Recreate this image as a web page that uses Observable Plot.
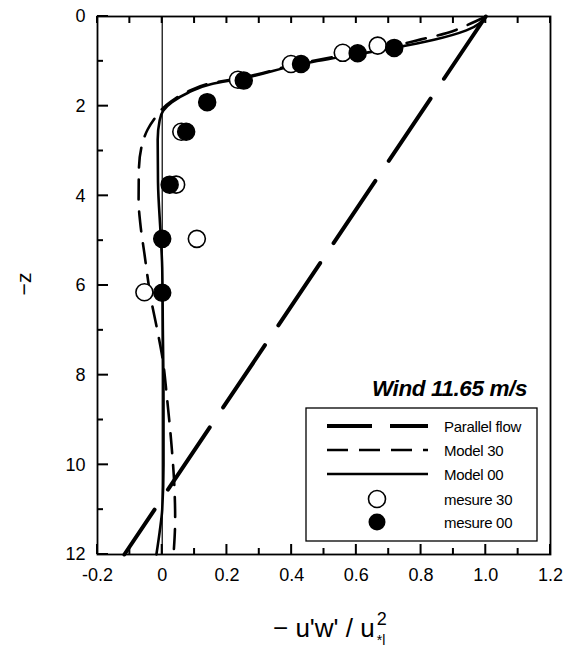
<!DOCTYPE html>
<html>
<head>
<meta charset="utf-8">
<script src="https://cdn.jsdelivr.net/npm/d3@7"></script>
<script src="https://cdn.jsdelivr.net/npm/@observablehq/plot@0.6"></script>
<style>
  html, body { margin: 0; padding: 0; background: #fff; }
  svg { display: block; }
</style>
</head>
<body>
<script>
// ---- data ----
const xMajorTicks = [-0.2, 0, 0.2, 0.4, 0.6, 0.8, 1.0, 1.2];
const xMinorTicks = [-0.1, 0.1, 0.3, 0.5, 0.7, 0.9, 1.1];
const yMajorTicks = [0, 2, 4, 6, 8, 10, 12];
const yMinorTicks = [1, 3, 5, 7, 9, 11];

const parallelX = [1.0, -0.117];
const parallelZ = [0, 12];

const model00X = [1.0, 0.94, 0.84, 0.717, 0.604, 0.43, 0.25, 0.15, 0.08, 0.03, 0.003, -0.008, -0.014, -0.013, -0.005, 0.0, 0.002, 0.004, 0.004, 0.0, -0.008, -0.018];
const model00Z = [0.0, 0.31, 0.52, 0.70, 0.84, 1.06, 1.38, 1.51, 1.70, 1.91, 2.10, 2.32, 2.75, 3.7, 4.85, 5.6, 7.0, 8.5, 10.0, 11.0, 11.5, 12.0];

const model30X = [1.0, 0.94, 0.88, 0.80, 0.72, 0.60, 0.43, 0.25, 0.15, 0.08, 0.03, 0.0, -0.024, -0.045, -0.062, -0.072, -0.073, -0.068, -0.055, -0.034, -0.015, 0.002, 0.014, 0.028, 0.037, 0.04, 0.035];
const model30Z = [0.0, 0.20, 0.37, 0.51, 0.65, 0.81, 1.04, 1.36, 1.49, 1.67, 1.88, 2.06, 2.28, 2.52, 2.85, 3.4, 4.1, 4.6, 5.29, 6.33, 7.0, 7.67, 8.45, 9.5, 10.4, 11.2, 12.0];

const mesure30X = [0.666, 0.558, 0.398, 0.234, 0.059, 0.043, 0.107, -0.055];
const mesure30Z = [0.65, 0.81, 1.06, 1.41, 2.57, 3.75, 4.96, 6.15];
const mesure00X = [0.717, 0.604, 0.429, 0.252, 0.139, 0.074, 0.023, 0.0, 0.0];
const mesure00Z = [0.70, 0.82, 1.06, 1.43, 1.91, 2.57, 3.75, 4.96, 6.16];

const seriesNames = ["Parallel flow", "Model 30", "Model 00", "mesure 30", "mesure 00"];
const titleText = "Wind 11.65 m/s";

// ---- build tables ----
const zip = (xs, zs) => xs.map((x, i) => ({x, z: zs[i]}));
const parallel = zip(parallelX, parallelZ);
const model00 = zip(model00X, model00Z);
const model30 = zip(model30X, model30Z);
const mesure30 = zip(mesure30X, mesure30Z);
const mesure00 = zip(mesure00X, mesure00Z);

const W = 577, H = 650;
const mL = 97, mR = 27, mT = 16, mB = 96;
const FONT = "'Liberation Sans', Arial, Helvetica, sans-serif";

const dashParallel = "75,24";
const dashModel30 = "20,12";

const chart = Plot.plot({
  width: W, height: H,
  marginLeft: mL, marginRight: mR, marginTop: mT, marginBottom: mB,
  style: {fontFamily: FONT, fontSize: "18px", color: "black", background: "white"},
  x: {domain: [-0.2, 1.2]},
  y: {domain: [0, 12], reverse: true},
  marks: [
    Plot.ruleX([0], {stroke: "black", strokeWidth: 1.2}),
    Plot.axisX({anchor: "bottom", ticks: xMajorTicks, tickSize: 0, tickPadding: 14,
      tickFormat: d => d === 0 ? "0" : d.toFixed(1), label: null, fontSize: 18}),
    Plot.axisY({anchor: "left", ticks: yMajorTicks, tickSize: 0, tickPadding: 12,
      tickFormat: d => String(d), label: null, fontSize: 18}),
    Plot.frame({stroke: "black", strokeWidth: 1.8}),
    Plot.line(parallel, {x: "x", y: "z", stroke: "black", strokeWidth: 4, strokeDasharray: dashParallel}),
    Plot.line(model30, {x: "x", y: "z", curve: "monotone-y", stroke: "black", strokeWidth: 2.6, strokeDasharray: dashModel30}),
    Plot.line(model00, {x: "x", y: "z", curve: "monotone-y", stroke: "black", strokeWidth: 2.6}),
    Plot.dot(mesure30, {x: "x", y: "z", r: 8.5, fill: "white", stroke: "black", strokeWidth: 1.6}),
    Plot.dot(mesure00, {x: "x", y: "z", r: 8.5, fill: "black", stroke: "black"})
  ]
});
document.body.appendChild(chart);

const svg = d3.select(chart);
const sx = chart.scale("x"), sy = chart.scale("y");
const fx0 = sx.apply(-0.2), fy0 = sy.apply(0), fy1 = sy.apply(12);

// inward tick marks, positioned through the chart's own scales
const tickG = svg.append("g").attr("fill", "black");
function vTick(px, yStart, len) {
  tickG.append("rect").attr("x", px - 1).attr("width", 2)
    .attr("y", Math.min(yStart, yStart + len)).attr("height", Math.abs(len));
}
function hTick(py, len) {
  tickG.append("rect").attr("y", py - 1).attr("height", 2)
    .attr("x", fx0).attr("width", len);
}
xMajorTicks.forEach(v => vTick(sx.apply(v), fy1, -10));
xMinorTicks.forEach(v => vTick(sx.apply(v), fy1, -6));
xMajorTicks.concat(xMinorTicks).forEach(v => vTick(sx.apply(v), fy0, 7));
yMajorTicks.forEach(v => hTick(sy.apply(v), 11));
yMinorTicks.forEach(v => hTick(sy.apply(v), 6));

// y axis title "−z"
svg.append("text")
  .attr("transform", "translate(23,284) rotate(-90)")
  .attr("text-anchor", "middle")
  .attr("dominant-baseline", "central")
  .style("font-family", FONT).style("font-size", "21px")
  .text("\u2212z");

// x axis title "− u'w' / u²*l"
const xt = svg.append("g").style("font-family", FONT).attr("text-anchor", "start").attr("fill", "black");
const main = xt.append("text")
  .attr("x", 273).attr("y", 637)
  .attr("text-anchor", "start")
  .style("font-size", "26px")
  .text("\u2212 u'w' / u");
const mw = main.node().getComputedTextLength();
xt.append("text").attr("x", 273 + mw + 2).attr("y", 625).attr("text-anchor", "start").style("font-size", "18px").text("2");
xt.append("text").attr("x", 273 + mw + 2).attr("y", 645).attr("text-anchor", "start").style("font-size", "14px").text("*l");

// title
svg.append("text")
  .attr("x", 527).attr("y", 396)
  .attr("text-anchor", "end")
  .style("font-family", FONT).style("font-size", "22.5px")
  .style("font-weight", "bold").style("font-style", "italic")
  .style("letter-spacing", "-0.4px")
  .text(titleText);

// legend
const lg = svg.append("g").style("font-family", FONT).style("font-size", "15px").attr("text-anchor", "start");
lg.append("rect").attr("x", 306).attr("y", 408).attr("width", 231).attr("height", 133)
  .attr("fill", "white").attr("stroke", "black").attr("stroke-width", 1.3);
const rowsY = [426, 450, 474, 499, 522];
const lx1 = 327, lx2 = 428, mx = 377, tx = 444;
lg.append("line").attr("x1", lx1).attr("x2", lx2).attr("y1", rowsY[0]).attr("y2", rowsY[0])
  .attr("stroke", "black").attr("stroke-width", 4).attr("stroke-dasharray", "45,18");
lg.append("line").attr("x1", lx1).attr("x2", lx2).attr("y1", rowsY[1]).attr("y2", rowsY[1])
  .attr("stroke", "black").attr("stroke-width", 2.6).attr("stroke-dasharray", "21,11");
lg.append("line").attr("x1", lx1).attr("x2", lx2).attr("y1", rowsY[2]).attr("y2", rowsY[2])
  .attr("stroke", "black").attr("stroke-width", 2.6);
lg.append("circle").attr("cx", mx).attr("cy", rowsY[3]).attr("r", 8.5)
  .attr("fill", "white").attr("stroke", "black").attr("stroke-width", 1.6);
lg.append("circle").attr("cx", mx).attr("cy", rowsY[4]).attr("r", 8.5).attr("fill", "black");
seriesNames.forEach((name, i) => {
  lg.append("text").attr("x", tx).attr("y", rowsY[i] + 5.5).attr("text-anchor", "start")
    .style("letter-spacing", "-0.3px").text(name);
});
</script>
</body>
</html>
